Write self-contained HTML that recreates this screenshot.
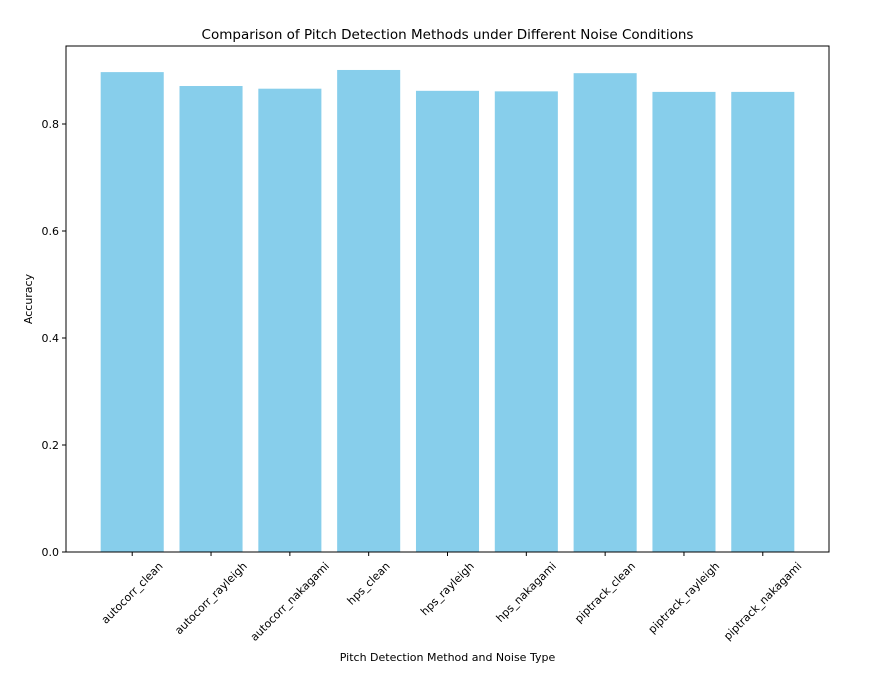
<!DOCTYPE html>
<html><head><meta charset="utf-8"><style>
html,body{margin:0;padding:0;background:#fff;}
svg text{font-family:"DejaVu Sans","Liberation Sans",sans-serif;fill:#000;}
</style></head><body>
<svg id="chart" width="879" height="680" xmlns="http://www.w3.org/2000/svg">
<rect width="879" height="680" fill="#fff"/>
<text x="447.5" y="39" font-size="13.5" text-anchor="middle">Comparison of Pitch Detection Methods under Different Noise Conditions</text>
<g id="bars"></g>
<g id="yaxis"></g>
<g id="xaxis"></g>
<rect x="66" y="46" width="763" height="506" fill="none" stroke="#000" stroke-width="1"/>
<text x="447.5" y="661" font-size="11" text-anchor="middle">Pitch Detection Method and Noise Type</text>
<text transform="translate(32,299) rotate(-90)" font-size="11" text-anchor="middle">Accuracy</text>
</svg>
<script>
const categories=["autocorr_clean","autocorr_rayleigh","autocorr_nakagami","hps_clean","hps_rayleigh","hps_nakagami","piptrack_clean","piptrack_rayleigh","piptrack_nakagami"];
const values=[0.897,0.871,0.866,0.901,0.862,0.861,0.895,0.860,0.860];
const yTicks=[0,0.2,0.4,0.6,0.8];
const yTickLabels=["0.0","0.2","0.4","0.6","0.8"];
const NS="http://www.w3.org/2000/svg";
const L=66,R=829,T=46,B=552;
const yScale=v=>B-v*535;
const xmin=-0.84,xmax=categories.length-1+0.84;
const xScale=i=>L+(i-xmin)/(xmax-xmin)*(R-L);
const bw=0.8*(R-L)/(xmax-xmin);
function mk(tag,attrs,parent){const e=document.createElementNS(NS,tag);for(const k in attrs)e.setAttribute(k,attrs[k]);parent.appendChild(e);return e;}
const gb=document.getElementById('bars'),gy=document.getElementById('yaxis'),gx=document.getElementById('xaxis');
values.forEach((v,i)=>{
 const r=mk('rect',{x:xScale(i)-bw/2,y:yScale(v),width:bw,height:B-yScale(v),fill:'#87ceeb'},gb);
 
 
 const cx=xScale(i);
 const t=mk('line',{x1:cx,x2:cx,y1:B,y2:B+4,stroke:'#000'},gx);
 
 
 const lb=mk('text',{x:0,y:0,'font-size':11,'text-anchor':'middle','dominant-baseline':'central'},gx);
 lb.textContent=categories[i];
 
 
 const len=lb.getComputedTextLength();
 const cy=B+8+(len+12)*0.3536;
 lb.setAttribute('transform',`translate(${cx},${cy}) rotate(-45)`);
});
yTicks.forEach((v,i)=>{
 const y=yScale(v);
 const t=mk('line',{x1:L-4,x2:L,y1:y,y2:y,stroke:'#000'},gy);
 
 
 const lb=mk('text',{x:L-7,y:y+4,'font-size':11,'text-anchor':'end'},gy);
 lb.textContent=yTickLabels[i];
 
 
});
</script>
</body></html>
